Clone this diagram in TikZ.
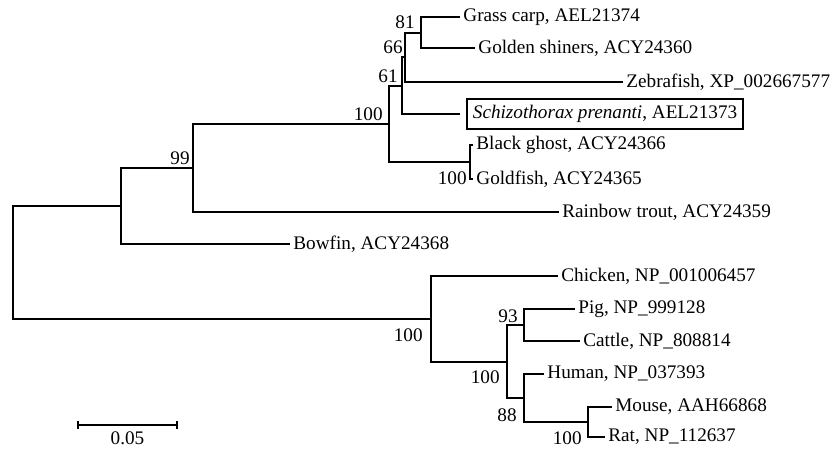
\documentclass[tikz,border=0pt]{standalone}
\usepackage{fontspec}
\setmainfont{LiberationSerif}[Extension=.ttf,UprightFont=*-Regular,ItalicFont=*-Italic,BoldFont=*-Bold]
\usetikzlibrary{positioning}

\begin{document}
\begin{tikzpicture}[x=0.5pt,y=-0.5pt,%
		font=\fontsize{9.6}{11.5}\selectfont,%
		br/.style={line width=1pt},%
		taxon/.style={inner sep=1pt},%
		boot/.style={inner sep=1pt}]
		\useasboundingbox (0,0) rectangle (831,451);
		% inner nodes
		\coordinate (root) at (13,262);
		\coordinate (nbw) at (121,206);
		\coordinate (n99) at (193,168);
		\coordinate (n100a) at (389,124);
		\coordinate (n61) at (402,85.5);
		\coordinate (n66) at (405,57);
		\coordinate (n81) at (421,32.5);
		\coordinate (nbg) at (470,162);
		\coordinate (nchk) at (431,319);
		\coordinate (nmam) at (507,361.5);
		\coordinate (n93) at (524,325);
		\coordinate (n88) at (524,398);
		\coordinate (nmr) at (588,422);
		% tips
		\coordinate (gc) at (460,17);
		\coordinate (gs) at (475,48);
		\coordinate (zf) at (623,82);
		\coordinate (sp) at (460,114);
		\coordinate (bg) at (473,145);
		\coordinate (gf) at (473,179);
		\coordinate (rt) at (559,212);
		\coordinate (bw) at (290,244);
		\coordinate (ch) at (558,276);
		\coordinate (pg) at (575,309);
		\coordinate (ct) at (580,341);
		\coordinate (hu) at (544,374);
		\coordinate (ms) at (612,407);
		\coordinate (rat) at (605,437);
		% taxa
		\node[taxon, right=0.5pt of gc] (gcT) {Grass carp, AEL21374};
		\node[taxon, right=0.5pt of gs] (gsT) {Golden shiners, ACY24360};
		\node[taxon, right=0.5pt of zf] (zfT) {Zebrafish, XP\_002667577};
		\node[draw, line width=0.9pt, inner xsep=3pt, inner ysep=3.2pt, right=3pt of sp] (spT) {\textit{Schizothorax prenanti}, AEL21373};
		\node[taxon, right=0.5pt of bg] (bgT) {Black ghost, ACY24366};
		\node[taxon, right=0.5pt of gf] (gfT) {Goldfish, ACY24365};
		\node[taxon, right=0.5pt of rt] (rtT) {Rainbow trout, ACY24359};
		\node[taxon, right=0.5pt of bw] (bwT) {Bowfin, ACY24368};
		\node[taxon, right=0.5pt of ch] (chT) {Chicken, NP\_001006457};
		\node[taxon, right=0.5pt of pg] (pgT) {Pig, NP\_999128};
		\node[taxon, right=0.5pt of ct] (ctT) {Cattle, NP\_808814};
		\node[taxon, right=0.5pt of hu] (huT) {Human, NP\_037393};
		\node[taxon, right=0.5pt of ms] (msT) {Mouse, AAH66868};
		\node[taxon, right=0.5pt of rat] (ratT) {Rat, NP\_112637};
		% branches
		\draw[br] (root) |- (nbw); \draw[br] (root) |- (nchk);
		\draw[br] (nbw) |- (n99); \draw[br] (nbw) |- (bw);
		\draw[br] (n99) |- (n100a); \draw[br] (n99) |- (rt);
		\draw[br] (n100a) |- (n61); \draw[br] (n100a) |- (nbg);
		\draw[br] (n61) |- (n66); \draw[br] (n61) |- (sp);
		\draw[br] (n66) |- (n81); \draw[br] (n66) |- (zf);
		\draw[br] (n81) |- (gc); \draw[br] (n81) |- (gs);
		\draw[br] (nbg) |- (bg); \draw[br] (nbg) |- (gf);
		\draw[br] (nchk) |- (ch); \draw[br] (nchk) |- (nmam);
		\draw[br] (nmam) |- (n93); \draw[br] (nmam) |- (n88);
		\draw[br] (n93) |- (pg); \draw[br] (n93) |- (ct);
		\draw[br] (n88) |- (hu); \draw[br] (n88) |- (nmr);
		\draw[br] (nmr) |- (ms); \draw[br] (nmr) |- (rat);
		% bootstrap values
		\node[boot, above left=0.5pt and 2pt of n81] (b81) {81};
		\node[boot, above left=0.5pt and 0pt of n66] (b66) {66};
		\node[boot, above left=0.3pt and 1pt of n61] (b61) {61};
		\node[boot, above left=0.5pt and 2pt of n100a] (b100a) {100};
		\node[boot, above left=0.5pt and 0.5pt of n99] (b99) {99};
		\node[boot, above left=0.2pt and 2pt of n93] (b93) {93};
		\node[boot, below left=3.5pt and 0.5pt of nbg] (bbg) {100};
		\node[boot, below left=3.5pt and 3pt of nchk] (bchk) {100};
		\node[boot, below left=3.5pt and 2.5pt of nmam] (bmam) {100};
		\node[boot, below left=4pt and 2.5pt of n88] (b88) {88};
		\node[boot, below left=3.5pt and 2pt of nmr] (bmr) {100};
		% scale bar
		\coordinate (s0) at (78,425);
		\coordinate (s1) at (177,425);
		\draw[br] (s0) -- (s1);
		\draw[br] ([yshift=2pt]s0) -- ([yshift=-2pt]s0);
		\draw[br] ([yshift=2pt]s1) -- ([yshift=-2pt]s1);
		\node[inner sep=1pt, below=2pt of s0, xshift=24.75pt] (sT) {0.05};
	\end{tikzpicture}
\end{document}
